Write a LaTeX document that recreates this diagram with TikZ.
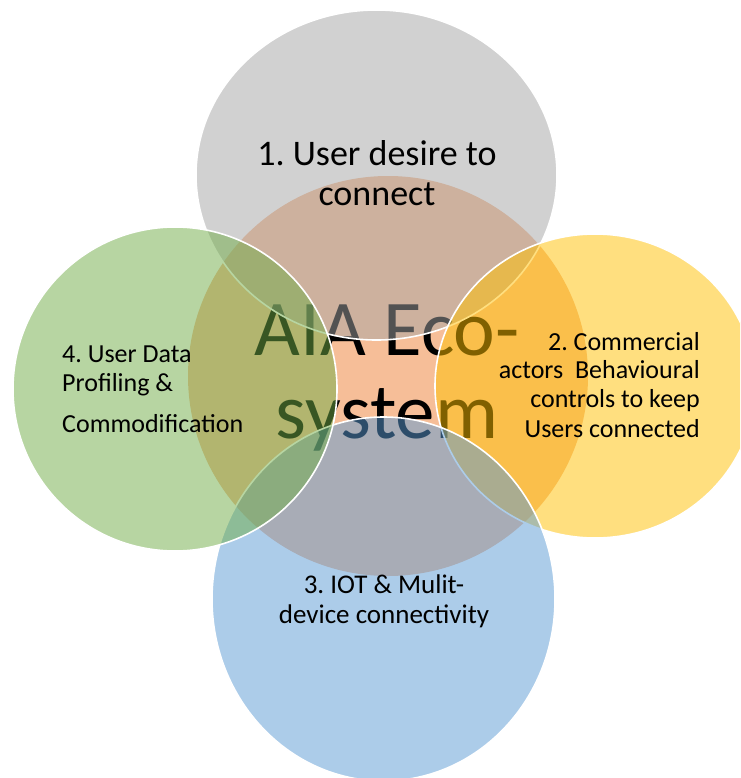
\documentclass[tikz,border=0pt]{standalone}
\usepackage{fontspec}
\setmainfont{Carlito}
\definecolor{cCenter}{HTML}{F6BE98}
\definecolor{cGray}{HTML}{A5A5A5}
\definecolor{cYellow}{HTML}{FFC000}
\definecolor{cBlue}{HTML}{5B9BD5}
\definecolor{cGreen}{HTML}{70AD47}
\frenchspacing
\begin{document}
\frenchspacing
\begin{tikzpicture}[x=1pt,y=-1pt,
  outer/.style={draw=white, line width=1.6pt, fill opacity=0.5},
  lbl/.style={inner sep=0pt, text=black, font=\fontsize{26}{29}\selectfont},
  lblA/.style={inner sep=0pt, text=black, font=\fontsize{36}{40}\selectfont},
  lblC/.style={inner sep=0pt, text=black, font=\fontsize{27}{30}\selectfont},
  big/.style={inner sep=0pt, text=black, font=\fontsize{79}{83}\selectfont}]
\useasboundingbox (0,0) rectangle (740,778);
\clip (0,0) rectangle (740,778);
\fill[white] (0,0) rectangle (740,778);
% centre circle
\fill[cCenter] (388,376) circle[radius=200pt];
\node[big, anchor=base] (c1) at (387,355) {AIA Eco-};
\node[big, anchor=base] (c2) at (387,438) {system};
% outer circles
\path[outer, fill=cGray]   (376.5,175) ellipse[x radius=180.5pt, y radius=165pt];
\path[outer, fill=cYellow] (595,386)   ellipse[x radius=160pt, y radius=152pt];
\path[outer, fill=cBlue]   (383.5,599) ellipse[x radius=171.5pt, y radius=182pt];
\path[outer, fill=cGreen]  (175,389)   circle[radius=162pt];
% labels
\node[lblA, anchor=base] (t1a) at (377,165) {1. User desire to};
\node[lblA, anchor=base] (t1b) at (377,205) {connect};
\node[lbl, anchor=base east] (t2a) at (700,350) {2. Commercial};
\node[lbl, anchor=base east] (t2b) at (700,378) {actors\ \ Behavioural};
\node[lbl, anchor=base east] (t2c) at (700,407) {controls to keep};
\node[lbl, anchor=base east] (t2d) at (700,437) {Users connected};
\node[lblC, anchor=base] (t3a) at (384,593) {3. IOT \& Mulit-};
\node[lblC, anchor=base] (t3b) at (384,623) {device connectivity};
\node[lbl, anchor=base west] (t4a) at (62,362) {4. User Data};
\node[lbl, anchor=base west] (t4b) at (62,391) {Profiling \&};
\node[lbl, anchor=base west] (t4c) at (62,432) {Commodification};
\end{tikzpicture}
\end{document}
